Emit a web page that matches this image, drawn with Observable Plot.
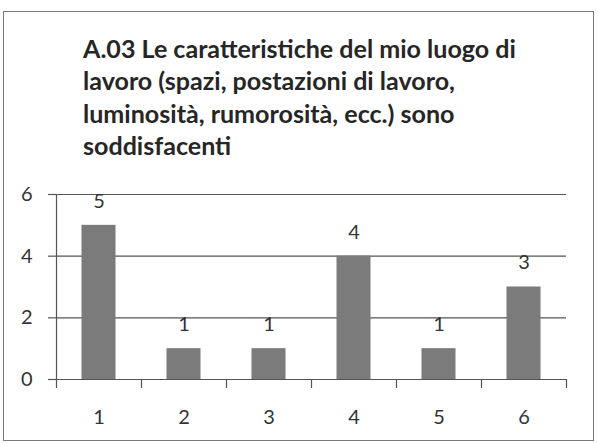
<!DOCTYPE html>
<html>
<head>
<meta charset="utf-8">
<script src="https://cdn.jsdelivr.net/npm/d3@7"></script>
<script src="https://cdn.jsdelivr.net/npm/@observablehq/plot@0.6"></script>
<style>
  html, body { margin: 0; padding: 0; background: #fff; }
  #wrap { position: relative; width: 598px; height: 443px; overflow: hidden; font-family: Lato, "Open Sans", sans-serif; }
  #frame { position: absolute; left: 3px; top: 11px; width: 589px; height: 428px; border: 1.5px solid #7a7a7a; }
  #title { position: absolute; left: 83px; top: 0; font-weight: 700; color: #262626; white-space: nowrap; }
  #title div { position: absolute; left: 0; }
  #chart { position: absolute; left: 0; top: 170px; }
</style>
</head>
<body>
<div id="wrap">
  <div id="frame"></div>
  <div id="title"></div>
  <div id="chart"></div>
</div>
<script>
const titleLines = [
  "A.03 Le caratteristiche del mio luogo di",
  "lavoro (spazi, postazioni di lavoro,",
  "luminosità, rumorosità, ecc.) sono",
  "soddisfacenti"
];
const categories = [1, 2, 3, 4, 5, 6];
const values = [5, 1, 1, 4, 1, 3];
const yTicks = [0, 2, 4, 6];

const data = categories.map((c, i) => ({cat: c, value: values[i]}));

// Title: fit first line to reference width
const titleEl = document.getElementById("title");
const canvas = document.createElement("canvas");
const ctx = canvas.getContext("2d");
let fs = 21;
ctx.font = `700 ${fs}px Lato`;
const w = ctx.measureText(titleLines[0]).width;
fs = fs * 433 / w;
const baselines = [56, 88.5, 121, 153.5];
titleLines.forEach((t, i) => {
  const d = document.createElement("div");
  d.textContent = t;
  d.style.fontSize = fs + "px";
  d.style.lineHeight = "1";
  d.style.top = (baselines[i] - fs * 0.8) + "px";
  titleEl.appendChild(d);
});

const chart = Plot.plot({
  width: 598,
  height: 270,
  marginLeft: 56,
  marginRight: 32,
  marginTop: 24,
  marginBottom: 61,
  style: { fontFamily: "Lato, 'Open Sans', sans-serif", fontSize: "20px", color: "#333", background: "transparent" },
  x: { type: "linear", domain: [0.5, 6.5] },
  y: { domain: [0, 6] },
  marks: [
    Plot.ruleY(yTicks, { stroke: "#555", strokeWidth: 1.2 }),
    Plot.ruleX([0.5], { stroke: "#555", strokeWidth: 1.2 }),
    Plot.rectY(data, { x1: d => d.cat - 0.5, x2: d => d.cat + 0.5, y: "value", fill: "#7b7b7b", insetLeft: 25.5, insetRight: 25.5 }),
    Plot.axisY({ ticks: yTicks, tickSize: 8, tickPadding: 16, tickFormat: d3.format("d"), stroke: "#555", strokeWidth: 1.2, fill: "#333", fontSize: 20, label: null }),
    Plot.axisX({ ticks: d3.range(0.5, 7, 1), tickSize: 9, tickFormat: () => "", stroke: "#555", strokeWidth: 1.2, label: null }),
    Plot.axisX({ ticks: categories, tickSize: 0, tickPadding: 30, fill: "#333", fontSize: 20, label: null, tickFormat: d3.format("d") }),
    Plot.text(data, { x: "cat", y: "value", text: d => String(d.value), dy: -24, fill: "#333", fontSize: 20 })
  ]
});
document.getElementById("chart").appendChild(chart);
</script>
</body>
</html>
